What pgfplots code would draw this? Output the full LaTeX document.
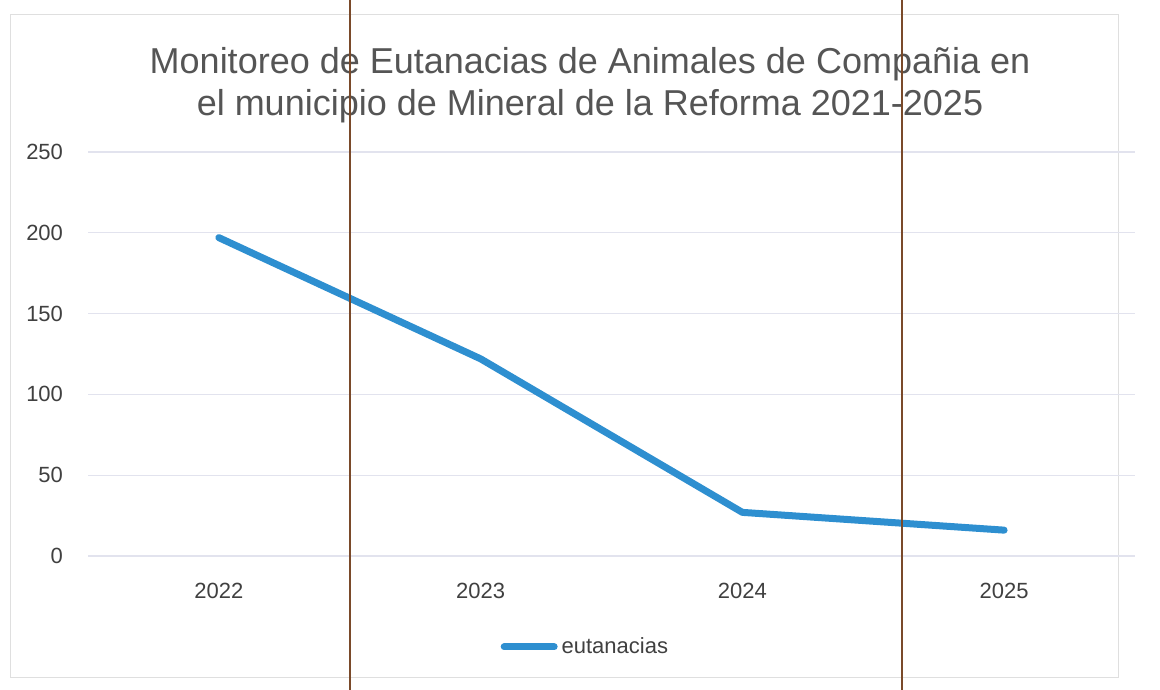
\documentclass[border=0pt]{standalone}
\usepackage{fontspec}
\setmainfont{Liberation Sans}
\usepackage{pgfplots}
\pgfplotsset{compat=1.18}
\definecolor{lineblue}{HTML}{2E8FD0}
\definecolor{gridc}{HTML}{E2E3EE}
\definecolor{txt}{HTML}{404040}
\definecolor{ttl}{HTML}{555555}
\definecolor{scan}{HTML}{7A4A2A}
\begin{document}
\begin{tikzpicture}
\path[use as bounding box] (0,0) rectangle (580bp,345bp);
\draw[gray!25, line width=0.5bp] (5bp,6bp) rectangle (559bp,337.5bp);
\begin{axis}[
  at={(44bp,67bp)}, anchor=south west,
  scale only axis, width=523.5bp, height=202bp,
  xmin=-0.5, xmax=3.5, ymin=0, ymax=250,
  xtick={0,1,2,3}, xticklabels={2022,2023,2024,2025},
  ytick={0,50,100,150,200,250},
  axis line style={draw=none}, major tick length=0pt,
  ymajorgrids, grid style={gridc, line width=0.6bp},
  ticklabel style={font=\fontsize{11bp}{13bp}\selectfont, text=txt},
  /pgf/number format/assume math mode=true,
  yticklabel style={xshift=-9bp},
  xticklabel style={yshift=-10bp},
  legend style={at={(0.476,-0.225)}, anchor=center, draw=none, fill=none,
    font=\fontsize{11bp}{13bp}\selectfont, text=txt,
    /tikz/every even column/.append style={column sep=0pt}},
  legend image code/.code={\draw[#1, line width=3.5bp, line cap=round] (0bp,0bp) -- (25bp,0bp);},
  legend cell align=left,
]
\addplot[lineblue, line width=3.5bp, line join=round, line cap=round] coordinates {
  (0,197) (1,122) (2,27) (3,16)
};
\addlegendentry{eutanacias}
\end{axis}
\node[text=ttl, font=\fontsize{18bp}{21bp}\selectfont, align=center] at (295bp,302.5bp)
  {Monitoreo de Eutanacias de Animales de Compañia en\\el municipio de Mineral de la Reforma 2021-2025};
\draw[scan, line width=1.1bp] (175bp,0) -- (175bp,345bp);
\draw[scan, line width=0.8bp] (451bp,0) -- (451bp,345bp);
\end{tikzpicture}
\end{document}
